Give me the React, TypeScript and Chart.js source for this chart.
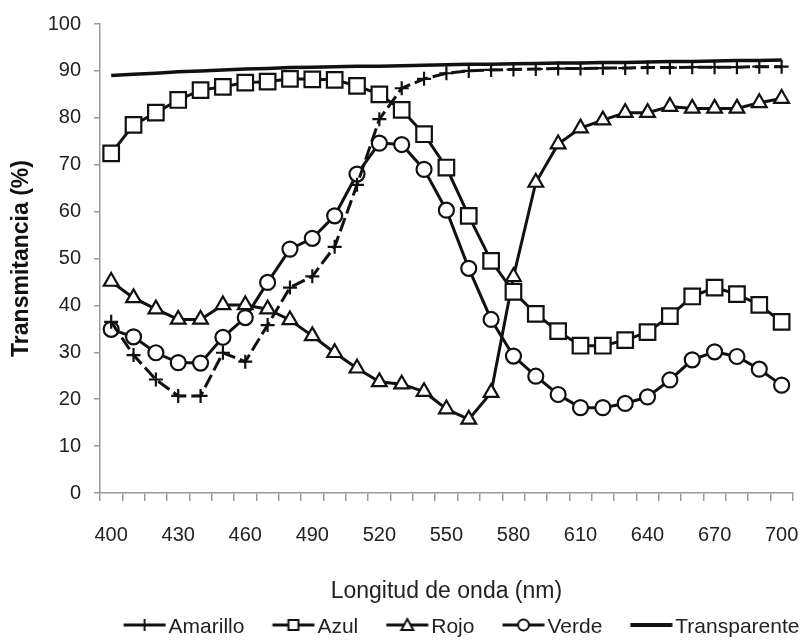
import React, { useEffect, useRef } from 'react';
import { Chart, registerables } from 'chart.js';

Chart.register(...registerables);

const wavelengths = ['400', '410', '420', '430', '440', '450', '460', '470', '480', '490', '500', '510', '520', '530', '540', '550', '560', '570', '580', '590', '600', '610', '620', '630', '640', '650', '660', '670', '680', '690', '700'];
const labelEvery = 3;

const amarillo = [36.5, 29.4, 24.2, 20.7, 20.7, 29.9, 28.0, 35.8, 43.8, 46.2, 52.5, 65.7, 79.7, 86.3, 88.3, 89.5, 90.0, 90.2, 90.3, 90.4, 90.5, 90.5, 90.6, 90.6, 90.7, 90.7, 90.8, 90.8, 90.8, 90.9, 90.9];
const azul = [72.4, 78.5, 81.1, 83.8, 85.9, 86.6, 87.5, 87.7, 88.3, 88.2, 88.1, 86.8, 85.0, 81.7, 76.5, 69.4, 59.1, 49.5, 42.9, 38.2, 34.5, 31.4, 31.4, 32.6, 34.3, 37.7, 41.9, 43.8, 42.4, 40.1, 36.5];
const rojo = [45.1, 41.6, 39.2, 37.0, 37.0, 40.1, 40.1, 39.2, 36.9, 33.5, 29.9, 26.6, 23.7, 23.2, 21.6, 17.9, 15.7, 21.4, 46.1, 66.2, 74.4, 77.8, 79.5, 81.1, 81.1, 82.4, 82.0, 82.0, 82.0, 83.2, 84.1];
const verde = [34.9, 33.3, 29.9, 27.8, 27.7, 33.2, 37.4, 44.9, 52.0, 54.3, 59.1, 68.0, 74.6, 74.3, 69.0, 60.3, 47.9, 37.0, 29.2, 24.9, 21.0, 18.2, 18.2, 19.1, 20.5, 24.1, 28.4, 30.1, 29.1, 26.4, 23.0];
const transparente = [89.0, 89.3, 89.5, 89.8, 90.0, 90.2, 90.4, 90.5, 90.7, 90.8, 90.9, 91.0, 91.0, 91.1, 91.2, 91.3, 91.4, 91.4, 91.5, 91.6, 91.7, 91.7, 91.8, 91.8, 91.9, 92.0, 92.0, 92.1, 92.2, 92.2, 92.3];

const seriesNames = ['Amarillo', 'Azul', 'Rojo', 'Verde', 'Transparente'];

const yTitle = 'Transmitancia (%)';
const xTitle = 'Longitud de onda (nm)';

const SANS = "'Liberation Sans', Arial, sans-serif";
const INK = '#111111';
const AXIS = '#9a9a9a';

function makeLegendIcon(kind: string): HTMLCanvasElement {
  const c = document.createElement('canvas');
  c.width = 80;
  c.height = 26;
  const ctx = c.getContext('2d') as CanvasRenderingContext2D;
  const x0 = 36.75;
  const x1 = x0 + 42;
  const cy = 11;
  const cx = (x0 + x1) / 2;
  ctx.strokeStyle = INK;
  ctx.lineWidth = kind === 'line' ? 4 : 3;
  ctx.beginPath();
  ctx.moveTo(x0, cy);
  ctx.lineTo(x1, cy);
  ctx.stroke();
  ctx.lineWidth = 2;
  ctx.fillStyle = '#fff';
  if (kind === 'rect') {
    ctx.fillRect(cx - 5, cy - 5, 10, 10);
    ctx.strokeRect(cx - 5, cy - 5, 10, 10);
  } else if (kind === 'circle') {
    ctx.beginPath();
    ctx.arc(cx, cy, 5.5, 0, Math.PI * 2);
    ctx.fill();
    ctx.stroke();
  } else if (kind === 'triangle') {
    ctx.beginPath();
    ctx.moveTo(cx, cy - 6);
    ctx.lineTo(cx + 6, cy + 5);
    ctx.lineTo(cx - 6, cy + 5);
    ctx.closePath();
    ctx.fill();
    ctx.stroke();
  } else if (kind === 'cross') {
    ctx.beginPath();
    ctx.moveTo(cx, cy - 6);
    ctx.lineTo(cx, cy + 6);
    ctx.stroke();
  }
  return c;
}

export default function App() {
  const ref = useRef<HTMLCanvasElement | null>(null);

  useEffect(() => {
    if (!ref.current) return;
    const icons = [makeLegendIcon('cross'), makeLegendIcon('rect'), makeLegendIcon('triangle'), makeLegendIcon('circle'), makeLegendIcon('line')];

    const legendShift = {
      id: 'legendShift',
      afterLayout(chart: any) {
        const lg = chart.legend;
        if (!lg) return;
        const dx = 48;
        const dy = 5.5;
        lg.left += dx;
        lg.right += dx;
        lg.top += dy;
        lg.bottom += dy;
      },
    };

    const base = {
      borderColor: INK,
      borderWidth: 3,
      pointBorderColor: INK,
      pointBackgroundColor: '#ffffff',
      pointBorderWidth: 2.2,
      tension: 0,
      fill: false,
    };

    const chart = new Chart(ref.current, {
      type: 'line',
      data: {
        labels: wavelengths,
        datasets: [
          { ...base, label: seriesNames[0], data: amarillo, pointStyle: 'cross', pointRadius: 7, borderDash: [14, 5] },
          { ...base, label: seriesNames[1], data: azul, pointStyle: 'rect', pointRadius: 11 },
          { ...base, label: seriesNames[2], data: rojo, pointStyle: 'triangle', pointRadius: 8.5 },
          { ...base, label: seriesNames[3], data: verde, pointStyle: 'circle', pointRadius: 7.5 },
          { ...base, label: seriesNames[4], data: transparente, pointRadius: 0, borderWidth: 3.5 },
        ],
      },
      options: {
        animation: false,
        responsive: false,
        devicePixelRatio: 1,
        layout: { padding: { left: 0, right: 7, top: 24, bottom: 0 } },
        plugins: {
          legend: {
            position: 'bottom',
            align: 'center',
            labels: {
              usePointStyle: true,
              pointStyleWidth: 62.5,
              padding: 0,
              color: '#222',
              font: { family: SANS, size: 21 },
              generateLabels: (c: any) =>
                (Chart.defaults.plugins.legend.labels.generateLabels as any)(c).map((l: any, i: number) => ({
                  ...l,
                  pointStyle: icons[i],
                  lineWidth: 0,
                })),
            },
          },
          tooltip: { enabled: false },
        },
        scales: {
          x: {
            type: 'category',
            offset: true,
            grid: { offset: true, drawOnChartArea: false, drawTicks: true, tickLength: 8, color: AXIS, lineWidth: 1.5 },
            border: { color: AXIS, width: 1.5 },
            ticks: {
              autoSkip: false,
              maxRotation: 0,
              padding: 22,
              color: '#222',
              font: { family: SANS, size: 20 },
              callback: (_v: any, i: number) => (i % labelEvery === 0 ? wavelengths[i] : ''),
            },
            title: {
              display: true,
              text: xTitle,
              color: '#222',
              font: { family: SANS, size: 23, lineHeight: 1 },
              padding: { top: 0, bottom: 7.5 },
            },
            afterFit: (s: any) => {
              s.height = 118;
              s.paddingLeft = 0;
              s.paddingRight = 0;
            },
          },
          y: {
            min: 0,
            max: 100,
            ticks: { stepSize: 10, padding: 13, color: '#222', font: { family: SANS, size: 20 } },
            grid: { drawOnChartArea: false, tickLength: 6, color: AXIS, lineWidth: 1.5 },
            border: { color: AXIS, width: 1.5 },
            title: {
              display: true,
              text: yTitle,
              color: '#111',
              font: { family: SANS, size: 23, weight: 'bold' },
              padding: { top: 8, bottom: 0 },
            },
            afterFit: (s: any) => {
              s.width = 100;
              s.paddingTop = 0;
              s.paddingBottom = 0;
            },
          },
        },
      },
      plugins: [legendShift],
    } as any);

    return () => chart.destroy();
  }, []);

  return (
    <div style={{ position: 'absolute', left: 0, top: 0, width: 806, height: 642, background: '#fff' }}>
      <canvas ref={ref} width={806} height={642} style={{ display: 'block', width: 806, height: 642 }} />
    </div>
  );
}
